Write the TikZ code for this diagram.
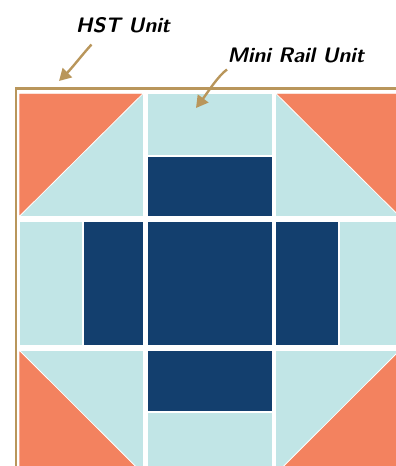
\documentclass[tikz,border=0pt]{standalone}
\usetikzlibrary{arrows.meta}
\definecolor{qorange}{HTML}{F3825F}
\definecolor{qlight}{HTML}{C1E5E6}
\definecolor{qdark}{HTML}{133F6E}
\definecolor{qgold}{HTML}{B9965B}
\tikzset{
  piece/.style={draw=white,line width=0.8pt},
  lbl/.style={font=\fontsize{21}{21}\selectfont\sffamily\bfseries\itshape,text=black,inner sep=0pt},
  pointer/.style={draw=qgold,line width=2.4pt,-{Triangle[length=12pt,width=13pt]}}
}
\begin{document}
\begin{tikzpicture}[x=1pt,y=-1pt]
\useasboundingbox (0,0) rectangle (396,466);
\begin{scope}
\clip (0,0) rectangle (396,466);
% gold border
\draw[qgold,line width=2.6pt] (16,470) -- (16,88.5) -- (400,88.5);
% HST top-left
\fill[qlight,piece] (19,93.3) rectangle (143.3,216.7);
\fill[qorange,piece] (19,93.3) -- (143.3,93.3) -- (19,216.7) -- cycle;
% mini rail top
\fill[qlight,piece] (147.7,93.3) rectangle (272.3,155);
\fill[qdark,piece] (147.7,156) rectangle (272.3,216.7);
% HST top-right
\fill[qlight,piece] (275.7,93.3) rectangle (400,216.7);
\fill[qorange,piece] (275.7,93.3) -- (400,93.3) -- (400,216.7) -- cycle;
% middle row
\fill[qlight,piece] (19,221.7) rectangle (82,345);
\fill[qdark,piece] (83,221.7) rectangle (143.3,345);
\fill[qdark,piece] (147.7,221.7) rectangle (272.3,345);
\fill[qdark,piece] (275.7,221.7) rectangle (338,345);
\fill[qlight,piece] (339,221.7) rectangle (400,345);
% HST bottom-left
\fill[qlight,piece] (19,350) rectangle (143.3,474);
\fill[qorange,piece] (19,350) -- (143.3,474) -- (19,474) -- cycle;
% mini rail bottom
\fill[qdark,piece] (147.7,350) rectangle (272.3,411.5);
\fill[qlight,piece] (147.7,412.5) rectangle (272.3,474);
% HST bottom-right
\fill[qlight,piece] (275.7,350) rectangle (400,474);
\fill[qorange,piece] (400,350) -- (400,474) -- (275.7,474) -- cycle;
\end{scope}
% labels
\node[lbl] (hst) at (123,25) {HST Unit};
\node[lbl] (rail) at (296,55) {Mini Rail Unit};
\coordinate (hstA) at (91.5,44.5);
\coordinate (hstB) at (59,81);
\coordinate (railA) at (227,69.5);
\coordinate (railB) at (196,108);
\draw[pointer] (hstA) .. controls (82,55) and (72,68) .. (hstB);
\draw[pointer] (railA) .. controls (218,76) and (208,92) .. (railB);
\end{tikzpicture}
\end{document}
